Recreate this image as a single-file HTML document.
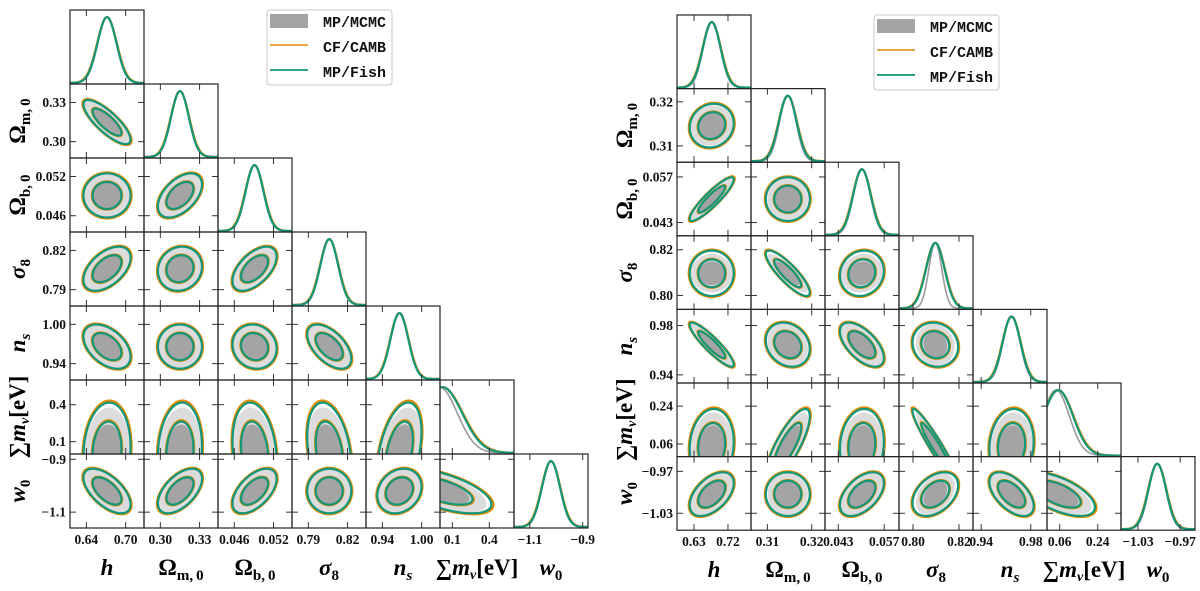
<!DOCTYPE html>
<html><head><meta charset="utf-8">
<style>
html,body{margin:0;padding:0;background:#fff;}
svg{display:block;}
.tick{font-family:"Liberation Serif",serif;font-weight:bold;font-size:13.5px;fill:#111;}
.lab{font-family:"Liberation Serif",serif;font-weight:bold;font-size:23px;fill:#000;}
.leg{font-family:"Liberation Mono",monospace;font-weight:bold;font-size:15px;fill:#111;}
</style></head>
<body>
<svg id="fig" width="1200" height="591" viewBox="0 0 1200 591" xmlns="http://www.w3.org/2000/svg"></svg>
<script>
// ---------- data: left triangle ----------
const namesL = ["h","Om","Ob","s8","ns","mnu","w0"];
const ticksL = [[0.64,0.70],[0.30,0.33],[0.046,0.052],[0.79,0.82],[0.94,1.00],[0.1,0.4],[-1.1,-0.9]];
const tickTextL = [["0.64","0.70"],["0.30","0.33"],["0.046","0.052"],["0.79","0.82"],["0.94","1.00"],["0.1","0.4"],["\u22121.1","\u22120.9"]];
const loL = [0.615,0.2875,0.04351,0.7775,0.915,0.0,-1.16];
const hiL = [0.728,0.3441,0.05483,0.8341,1.028,0.6,-0.88];
const meanL = [0.6715,0.315,0.0491,0.806,0.966,0.02,-1.02];
const sigL = [0.0145,0.0068,0.00136,0.0068,0.0136,0.16,0.034];
const mcmcScaleL = [0.97,0.97,0.97,0.97,1.0,0.9,0.97];
const corrL = [
 [],
 [-0.8],
 [0.0,0.5],
 [0.5,0.1,0.55],
 [-0.45,0.0,-0.1,-0.55],
 [0.1,0.1,-0.2,-0.3,0.4],
 [-0.6,0.55,0.55,0.0,0.2,-0.6]
];
// ---------- data: right triangle ----------
const ticksR = [[0.63,0.72],[0.31,0.32],[0.043,0.057],[0.80,0.82],[0.94,0.98],[0.06,0.24],[-1.03,-0.97]];
const tickTextR = [["0.63","0.72"],["0.31","0.32"],["0.043","0.057"],["0.80","0.82"],["0.94","0.98"],["0.06","0.24"],["\u22121.03","\u22120.97"]];
const loR = [0.585,0.3063,0.03894,0.7939,0.9334,0.0,-1.0542];
const hiR = [0.781,0.3230,0.06152,0.8261,0.9931,0.35,-0.9489];
const meanR = [0.677,0.3146,0.0502,0.8097,0.9645,0.053,-1.0026];
const sigR = [0.0235,0.0020,0.0027,0.0040,0.0072,0.07,0.0126];
const mcmcScaleR = [0.95,0.92,0.95,0.7,0.95,0.9,0.95];
const corrR = [
 [],
 [0.1],
 [0.9,0.0],
 [0.0,-0.85,0.1],
 [-0.9,-0.2,-0.6,-0.1],
 [0.1,0.8,0.1,-0.95,0.1],
 [0.5,0.0,0.5,0.4,-0.55,-0.6]
];
const legendLabels = ["MP/MCMC","CF/CAMB","MP/Fish"];

const NS="http://www.w3.org/2000/svg";
const svg=document.getElementById('fig');
const ORANGE="#e08a00", GREEN="#12977a", G1="#a4a4a4", G2="#dcdcdc";
function mk(tag,attrs,parent){const e=document.createElementNS(NS,tag);for(const k in attrs)e.setAttribute(k,attrs[k]);(parent||svg).appendChild(e);return e;}

let clipId=0;
function drawGrid(gx,gy,sx,sy,ticks,tickText,lo,hi,mean,sig,msc,corr,side){
  const n=7;
  const g=mk('g',{});
  
  
  function X(i,v,col){return gx+col*sx+(v-lo[i])/(hi[i]-lo[i])*sx;}
  function Y(j,v,row){return gy+(row+1)*sy-(v-lo[j])/(hi[j]-lo[j])*sy;}
  for(let row=0;row<n;row++){
    for(let col=0;col<=row;col++){
      const px=gx+col*sx, py=gy+row*sy;
      const pg=mk('g',{},g);
      
      
      const cid='c'+(clipId++);
      const cp=mk('clipPath',{id:cid},pg);
      mk('rect',{x:px,y:py,width:sx,height:sy},cp);
      const inner=mk('g',{'clip-path':'url(#'+cid+')'},pg);
      if(col===row){
        const i=col;
        const curves=[[sig[i]*msc[i],"#9a9a9a",1.6,mean[i]-(i===5?sig[i]*0.15:0)],[sig[i]*1.03,ORANGE,2.4,mean[i]],[sig[i],GREEN,2.2,mean[i]]];
        curves.forEach((c,k)=>{
          let d="";
          for(let s=0;s<=120;s++){
            const v=lo[i]+(hi[i]-lo[i])*s/120;
            const z=(v-c[3])/c[0];
            const h=Math.exp(-0.5*z*z);
            const xx=X(i,v,col), yy=py+sy-1-h*(sy*0.89);
            d+=(s?"L":"M")+xx.toFixed(2)+","+yy.toFixed(2);
          }
          const p=mk('path',{d:d,fill:'none',stroke:c[1],'stroke-width':c[2]},inner);
          
          
        });
      } else {
        const i=col,j=row,r=corr[j][i];
        function ell(k,scaleX,scaleY){
          let d="";
          const q=Math.sqrt(1-r*r);
          for(let s=0;s<=100;s++){
            const t=2*Math.PI*s/100;
            const u=Math.cos(t), w=r*Math.cos(t)+q*Math.sin(t);
            const vx=mean[i]+k*scaleX*sig[i]*u;
            const vy=mean[j]+k*scaleY*sig[j]*w;
            d+=(s?"L":"M")+X(i,vx,col).toFixed(2)+","+Y(j,vy,row).toFixed(2);
          }
          return d+"Z";
        }
        const gx2=Math.max(msc[i],0.85), gy2=Math.max(msc[j],0.85);
        const gm2=mk('path',{d:ell(2.48,gx2,gy2),fill:G2},inner);
        
        
        const gm1=mk('path',{d:ell(1.52,gx2,gy2),fill:G1},inner);
        
        
        [[2.48,'95'],[1.52,'68']].forEach(kk=>{
          const o=mk('path',{d:ell(kk[0],1.04,1.04),fill:'none',stroke:ORANGE,'stroke-width':2.4},inner);
          
          
          const gr=mk('path',{d:ell(kk[0],1.0,1.0),fill:'none',stroke:GREEN,'stroke-width':2.2},inner);
          
          
        });
        ticks[j].forEach(tv=>{
          const yy=Y(j,tv,row);
          mk('line',{x1:px,x2:px+6,y1:yy,y2:yy,stroke:'#333','stroke-width':1},pg);
          mk('line',{x1:px+sx-6,x2:px+sx,y1:yy,y2:yy,stroke:'#333','stroke-width':1},pg);
        });
      }
      ticks[col].forEach(tv=>{
        const xx=X(col,tv,col);
        mk('line',{x1:xx,x2:xx,y1:py,y2:py+6,stroke:'#333','stroke-width':1},pg);
        mk('line',{x1:xx,x2:xx,y1:py+sy-6,y2:py+sy,stroke:'#333','stroke-width':1},pg);
      });
      const fr=mk('rect',{x:px,y:py,width:sx,height:sy,fill:'none',stroke:'#222','stroke-width':1.2},pg);
      
      
    }
  }
  for(let row=1;row<n;row++){
    ticks[row].forEach((tv,k)=>{
      const t=mk('text',{x:gx-4,y:Y(row,tv,row)+4.5,'text-anchor':'end','class':'tick'},g);
      t.textContent=tickText[row][k];
      
      
    });
  }
  for(let col=0;col<n;col++){
    ticks[col].forEach((tv,k)=>{
      const t=mk('text',{x:X(col,tv,col),y:gy+n*sy+16,'text-anchor':'middle','class':'tick'},g);
      t.textContent=tickText[col][k];
      
      
    });
  }
  const labs=[
    '<tspan font-style="italic">h</tspan>',
    '\u03A9<tspan font-size="15" dy="5">m,\u20090</tspan>',
    '\u03A9<tspan font-size="15" dy="5">b,\u20090</tspan>',
    '<tspan font-style="italic">\u03C3</tspan><tspan font-size="15" dy="5">8</tspan>',
    '<tspan font-style="italic">n</tspan><tspan font-size="15" dy="5" font-style="italic">s</tspan>',
    '\u2211<tspan font-style="italic">m</tspan><tspan font-size="14" dy="4" font-style="italic">\u03BD</tspan><tspan dy="-4">[eV]</tspan>',
    '<tspan font-style="italic">w</tspan><tspan font-size="15" dy="5">0</tspan>'
  ];
  for(let col=0;col<n;col++){
    const t=mk('text',{x:gx+col*sx+sx/2,y:gy+n*sy+47,'text-anchor':'middle','class':'lab'},g);
    t.innerHTML=labs[col];
    
    
  }
  for(let row=1;row<n;row++){
    const cx=gx-45, cy=gy+row*sy+sy/2;
    const t=mk('text',{x:cx,y:cy,'text-anchor':'middle','class':'lab',transform:'rotate(-90 '+cx+' '+cy+')'},g);
    t.innerHTML=labs[row];
    
    
  }
}

function drawLegend(x,y,side){
  const lg=mk('g',{});
  
  
  mk('rect',{x:x,y:y,width:125,height:75,rx:3,fill:'#fff',stroke:'#c8c8c8','stroke-width':1},lg);
  mk('rect',{x:x+3,y:y+4,width:38,height:14,fill:G1},lg);
  mk('line',{x1:x+3,x2:x+41,y1:y+35,y2:y+35,stroke:ORANGE,'stroke-width':1.6},lg);
  mk('line',{x1:x+3,x2:x+41,y1:y+60,y2:y+60,stroke:GREEN,'stroke-width':1.8},lg);
  legendLabels.forEach((s,k)=>{
    const t=mk('text',{x:x+56,y:y+17+k*25,'class':'leg'},lg);
    t.textContent=s;
    
    
  });
}

drawGrid(70,10,74,74,ticksL,tickTextL,loL,hiL,meanL,sigL,mcmcScaleL,corrL,'left');
drawGrid(677,15,74,73.6,ticksR,tickTextR,loR,hiR,meanR,sigR,mcmcScaleR,corrR,'right');
drawLegend(267,10,'left');
drawLegend(874,15,'right');
</script>
</body></html>
